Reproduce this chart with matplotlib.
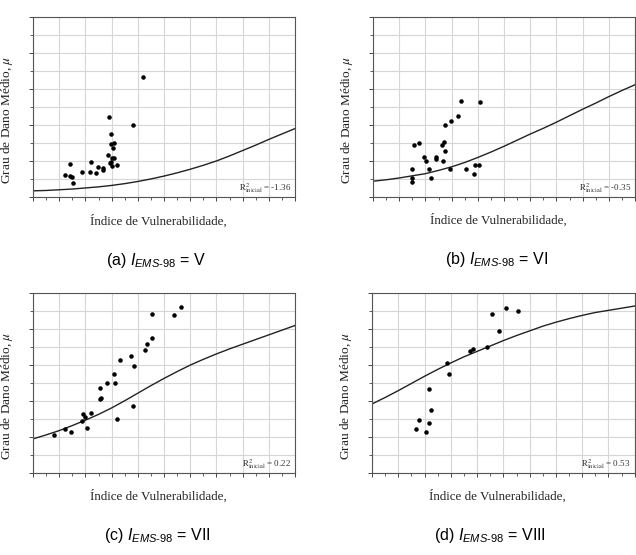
import numpy as np
import matplotlib
matplotlib.use("Agg")
import matplotlib.pyplot as plt
from matplotlib.ticker import MultipleLocator, NullFormatter

plt.rcParams['mathtext.fontset'] = 'custom'
plt.rcParams['mathtext.rm'] = 'Liberation Sans'
plt.rcParams['mathtext.it'] = 'Liberation Sans:italic'

# curve sampled every 5 units of vulnerability index
curve_x = [0, 5, 10, 15, 20, 25, 30, 35, 40, 45, 50, 55, 60, 65, 70, 75, 80, 85, 90, 95, 100]

# (a) EMS-98 = V
a_x = [12.2, 14.0, 14.0, 15.0, 15.3, 18.5, 21.7, 22.2, 24.1, 24.8, 26.6, 26.8, 28.5,
       29.0, 29.3, 29.7, 29.8, 29.9, 30.1, 30.3, 30.6, 30.8, 30.9, 32.1, 38.2, 41.8]
a_y = [0.62, 0.92, 0.59, 0.56, 0.40, 0.69, 0.71, 0.99, 0.67, 0.85, 0.76, 0.81, 1.17,
       2.24, 0.96, 0.98, 1.76, 1.48, 0.88, 1.08, 1.36, 1.50, 1.09, 0.90, 2.01, 3.35]
a_curve = [0.18, 0.19, 0.21, 0.23, 0.26, 0.29, 0.33, 0.38, 0.44, 0.51, 0.59, 0.68,
           0.78, 0.89, 1.01, 1.15, 1.30, 1.45, 1.61, 1.76, 1.91]

# (b) EMS-98 = VI
b_x = [14.9, 14.9, 14.9, 15.8, 17.6, 19.4, 20.2, 21.3, 22.2, 24.1, 24.1, 26.2, 26.6,
       27.1, 27.3, 27.6, 29.4, 29.9, 32.6, 33.5, 35.4, 38.5, 39.0, 40.3, 40.8]
b_y = [0.76, 0.51, 0.40, 1.44, 1.50, 1.11, 1.00, 0.76, 0.51, 1.10, 1.06, 1.44, 1.00,
       1.51, 1.99, 1.26, 0.76, 2.10, 2.24, 2.67, 0.76, 0.64, 0.89, 0.89, 2.64]
b_curve = [0.43, 0.47, 0.52, 0.58, 0.64, 0.73, 0.83, 0.95, 1.09, 1.24, 1.40, 1.57,
           1.74, 1.90, 2.07, 2.25, 2.43, 2.60, 2.78, 2.95, 3.11]

# (c) EMS-98 = VII
c_x = [8.0, 12.1, 14.5, 18.6, 19.0, 20.0, 20.4, 22.2, 25.4, 25.5, 26.0, 28.2, 30.8,
       31.3, 32.2, 33.1, 37.2, 38.1, 38.7, 42.8, 43.6, 45.4, 45.4, 53.8, 56.4]
c_y = [1.05, 1.21, 1.12, 1.44, 1.64, 1.54, 1.25, 1.67, 2.34, 2.06, 2.07, 2.50, 2.75,
       2.50, 1.50, 3.13, 3.23, 1.86, 2.96, 3.40, 3.57, 3.75, 4.40, 4.38, 4.61]
c_curve = [0.94, 1.05, 1.17, 1.31, 1.46, 1.62, 1.80, 2.00, 2.21, 2.42, 2.62, 2.81,
           2.99, 3.15, 3.30, 3.44, 3.57, 3.70, 3.83, 3.96, 4.09]

# (d) EMS-98 = VIII
d_x = [16.9, 17.8, 20.5, 21.5, 21.5, 22.4, 28.4, 29.3, 37.3, 38.3, 43.8, 45.6, 48.3, 51.1, 55.7]
d_y = [1.20, 1.45, 1.13, 1.37, 2.32, 1.75, 3.06, 2.73, 3.38, 3.44, 3.50, 4.40, 3.95, 4.58, 4.50]
d_curve = [1.91, 2.09, 2.28, 2.48, 2.68, 2.87, 3.05, 3.22, 3.37, 3.52, 3.67, 3.81,
           3.94, 4.07, 4.18, 4.28, 4.37, 4.45, 4.51, 4.57, 4.63]

panels = [
    ('(a)', 'V', a_x, a_y, a_curve, '-1.36', [0.052, 0.6445, 0.412, 0.3243], 0.47),
    ('(b)', 'VI', b_x, b_y, b_curve, '-0.35', [0.5865, 0.6456, 0.412, 0.3243], 0.47),
    ('(c)', 'VII', c_x, c_y, c_curve, '0.22', [0.052, 0.1483, 0.412, 0.3243], 0.475),
    ('(d)', 'VIII', d_x, d_y, d_curve, '0.53', [0.585, 0.1483, 0.413, 0.3243], 0.45),
]

fig = plt.figure(figsize=(6.36, 5.55), dpi=100)

for tag, inten, px, py, curve, r2, rect, capx in panels:
    ax = fig.add_axes(rect)
    ax.set_xlim(0, 100)
    ax.set_ylim(0, 5)
    ax.xaxis.set_major_locator(MultipleLocator(10))
    ax.xaxis.set_minor_locator(MultipleLocator(5))
    ax.yaxis.set_major_locator(MultipleLocator(1))
    ax.yaxis.set_minor_locator(MultipleLocator(0.5))
    ax.xaxis.set_major_formatter(NullFormatter())
    ax.yaxis.set_major_formatter(NullFormatter())
    ax.tick_params(which='major', length=3, width=0.7, color='#444444', direction='out')
    ax.tick_params(which='minor', length=2, width=0.6, color='#444444', direction='out')
    ax.grid(True, which='major', axis='x', color='#d6d6d6', lw=0.8)
    ax.grid(True, which='both', axis='y', color='#d6d6d6', lw=0.8)
    ax.set_axisbelow(True)
    for s in ax.spines.values():
        s.set_color('#555555')
        s.set_linewidth(0.8)

    ax.plot(curve_x, curve, color='#222222', lw=1.0)
    ax.scatter(px, py, s=5, color='black', zorder=3)

    ax.text(0.985, 0.05, r'$\mathrm{R}^2_{\mathrm{inicial}}$ = ' + r2,
            transform=ax.transAxes, ha='right', va='center',
            fontsize=6.5, family='Liberation Serif', color='#333333',
            math_fontfamily='stix')

    ax.set_ylabel(r'Grau de Dano Médio, $\mu$', family='Liberation Serif',
                  fontsize=9.6, math_fontfamily='stix', color='#222222')
    ax.yaxis.set_label_coords(-0.069, 0.43)
    ax.set_xlabel('Índice de Vulnerabilidade,', family='Liberation Serif',
                  fontsize=9.4, color='#222222')
    ax.xaxis.set_label_coords(0.477, -0.095)

    ax.text(capx, -0.35, tag + r' $I_{EMS\text{-}98}$ = ' + inten,
            transform=ax.transAxes, ha='center', va='center',
            fontsize=11.5, family='Liberation Sans')

fig.savefig('out.png', dpi=100)
